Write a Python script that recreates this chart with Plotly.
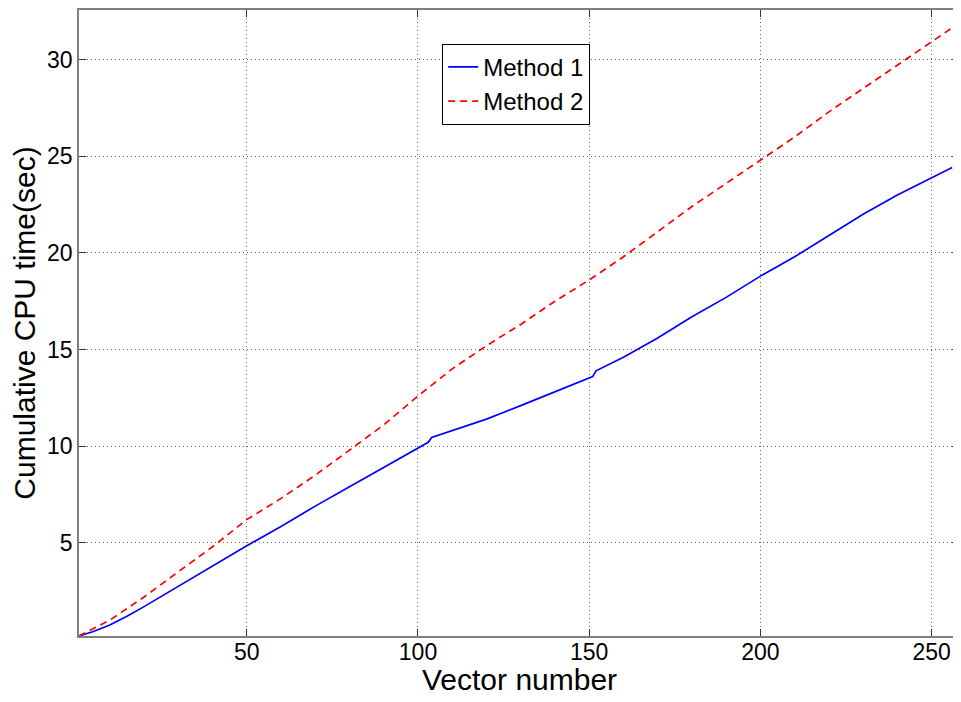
import plotly.graph_objects as go

# Method 1 (blue, solid)
m1_x = [1, 5, 10, 15, 20, 30, 40, 50, 60, 70, 80, 90, 100, 102, 103, 104, 110, 120, 130, 140, 150, 151, 152, 160, 170, 180, 190, 200, 210, 220, 230, 240, 250, 256]
m1_y = [0.18, 0.4, 0.75, 1.2, 1.7, 2.75, 3.8, 4.85, 5.85, 6.9, 7.9, 8.9, 9.9, 10.1, 10.2, 10.45, 10.8, 11.4, 12.1, 12.8, 13.5, 13.6, 13.9, 14.6, 15.6, 16.7, 17.7, 18.8, 19.8, 20.9, 22.0, 23.0, 23.9, 24.42]

# Method 2 (red, dashed)
m2_x = [1, 10, 20, 30, 40, 45, 50, 60, 70, 80, 87, 90, 100, 110, 120, 130, 140, 150, 160, 170, 180, 190, 200, 210, 220, 230, 240, 250, 256]
m2_y = [0.18, 1.0, 2.2, 3.5, 4.8, 5.5, 6.2, 7.3, 8.5, 9.8, 10.7, 11.1, 12.6, 14.0, 15.2, 16.3, 17.5, 18.6, 19.8, 21.1, 22.4, 23.6, 24.8, 26.0, 27.3, 28.5, 29.7, 30.9, 31.65]

x_ticks = [50, 100, 150, 200, 250]
y_ticks = [5, 10, 15, 20, 25, 30]

x_title = "Vector number"
y_title = "Cumulative CPU time(sec)"

FONT = "Liberation Sans, Arial, sans-serif"

fig = go.Figure()
fig.add_trace(go.Scatter(x=m1_x, y=m1_y, mode="lines", name="Method 1",
                         line=dict(color="#0000ff", width=1.7)))
fig.add_trace(go.Scatter(x=m2_x, y=m2_y, mode="lines", name="Method 2",
                         line=dict(color="#ff0000", width=1.7, dash="7px,5px")))

axis_common = dict(showline=True, linecolor="#7f7f7f", linewidth=1.5, mirror="ticks",
                   ticks="inside", ticklen=7, tickcolor="#333333",
                   showgrid=True, gridcolor="#666666", griddash="1px,3px", gridwidth=1,
                   zeroline=False,
                   tickfont=dict(family=FONT, size=23, color="black"))

fig.update_xaxes(range=[1, 258], tickvals=x_ticks, ticklabelstandoff=-5, **axis_common)
fig.update_yaxes(range=[0.18, 32.57], tickvals=y_ticks, ticklabelstandoff=0,
                 title=dict(text=y_title, font=dict(family=FONT, size=30, color="black"), standoff=6),
                 **axis_common)

fig.add_annotation(text=x_title, xref="paper", yref="paper", x=0.5, y=0,
                   xanchor="center", yanchor="top", yshift=-25, showarrow=False,
                   font=dict(family=FONT, size=30, color="black"))

fig.update_layout(
    width=953, height=694, autosize=False,
    margin=dict(l=71, r=0, t=1, b=66),
    paper_bgcolor="white", plot_bgcolor="white",
    font=dict(family=FONT, color="black"),
    legend=dict(x=0.4127, y=0.946, xanchor="left", yanchor="top",
                bgcolor="white", bordercolor="black", borderwidth=1,
                font=dict(family=FONT, size=24, color="black"),
                tracegroupgap=0),
    showlegend=True,
)

fig.write_html("out.html")
